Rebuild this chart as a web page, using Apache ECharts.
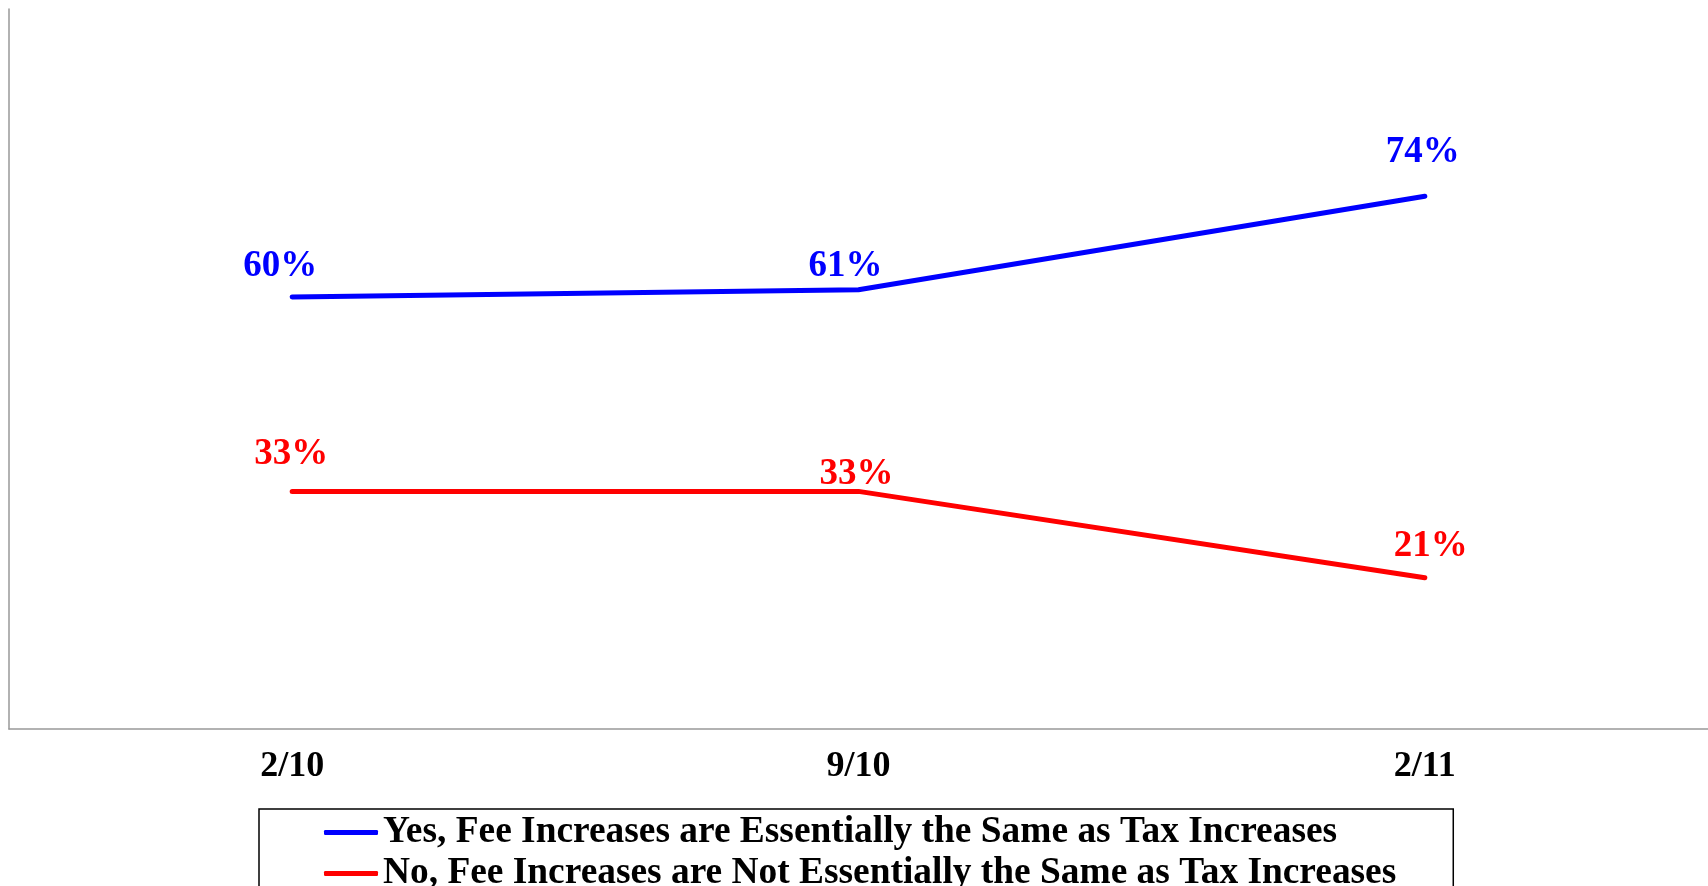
<!DOCTYPE html>
<html>
<head>
<meta charset="utf-8">
<script src="https://cdn.jsdelivr.net/npm/echarts@6/dist/echarts.min.js"></script>
<style>
  html, body { margin: 0; padding: 0; background: #fff; }
  #chart { width: 1708px; height: 886px; }
</style>
</head>
<body>
<div id="chart"></div>
<script>
// survey dates
const categories = ['2/10', '9/10', '2/11']
const yesValues = [60, 61, 74]
const noValues = [33, 33, 21]
const yesName = 'Yes, Fee Increases are Essentially the Same as Tax Increases'
const noName = 'No, Fee Increases are Not Essentially the Same as Tax Increases'

// label nudges so the numbers sit where the original put them
const yesLabelOffsets = [[-12, -13], [-13, -5], [-2, -26]]
const noLabelOffsets = [[-1, -19], [-2, 1], [6, -13]]

const serif = '"Liberation Serif", "Times New Roman", serif'

function withLabels(values, offsets) {
  return values.map((v, i) => ({ value: v, label: { offset: offsets[i] } }))
}

function makeSeries(name, values, offsets, color) {
  return {
    name: name,
    type: 'line',
    symbol: 'circle',
    symbolSize: 0,
    showSymbol: true,
    lineStyle: { color: color, width: 5, cap: 'round' },
    itemStyle: { color: color },
    label: {
      show: true,
      position: 'top',
      distance: 0,
      color: color,
      fontFamily: serif,
      fontWeight: 'bold',
      fontSize: 37,
      lineHeight: 36,
      formatter: '{c}%'
    },
    data: withLabels(values, offsets),
    animation: false
  }
}

const chart = echarts.init(document.getElementById('chart'))
chart.setOption({
  backgroundColor: '#fff',
  grid: {
    left: 9,
    right: -1,
    top: 9,
    bottom: 157,
    containLabel: false
  },
  xAxis: {
    type: 'category',
    data: categories,
    boundaryGap: true,
    axisLine: { lineStyle: { color: '#999', width: 1.5 } },
    axisTick: { show: false },
    axisLabel: {
      color: '#000',
      fontFamily: serif,
      fontWeight: 'bold',
      fontSize: 36,
      margin: 20
    }
  },
  yAxis: {
    type: 'value',
    min: 0,
    max: 100,
    interval: 10,
    axisLine: { show: true, lineStyle: { color: '#999', width: 1.5 } },
    axisTick: { show: false },
    axisLabel: { show: false },
    splitLine: { show: false }
  },
  legend: {
    orient: 'vertical',
    left: 259,
    top: 809,
    width: 1193,
    height: 200,
    padding: [5, 57, 30, 65],
    itemGap: 4,
    itemWidth: 54,
    itemHeight: 5,
    icon: 'roundRect',
    borderColor: '#000',
    borderWidth: 1.5,
    textStyle: {
      color: '#000',
      fontFamily: serif,
      fontWeight: 'bold',
      fontSize: 37.4,
      lineHeight: 37
    },
    data: [yesName, noName]
  },
  series: [
    makeSeries(yesName, yesValues, yesLabelOffsets, '#0000ff'),
    makeSeries(noName, noValues, noLabelOffsets, '#ff0000')
  ]
})
</script>
</body>
</html>
